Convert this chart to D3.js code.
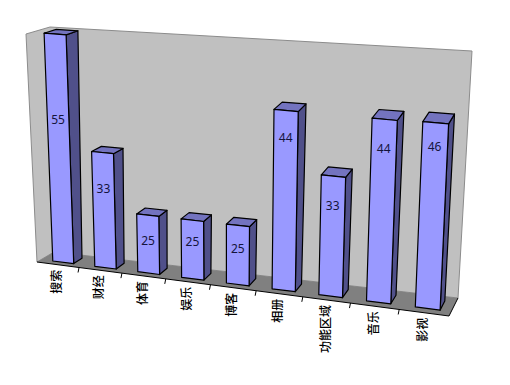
<!DOCTYPE html>
<html><head><meta charset="utf-8">
<script src="https://cdn.jsdelivr.net/npm/d3@7/dist/d3.min.js"></script>
<style>html,body{margin:0;padding:0;background:#fff}svg{display:block}</style>
</head><body><svg id="c" width="510" height="385"></svg>
<script>
// Data
const categories = ["搜索","财经","体育","娱乐","博客","相册","功能区域","音乐","影视"];
const values = [55,33,25,25,25,44,33,44,46];
// The picture's bars are not proportional to their labels: read value -> share of wall height
const valueStops = [25,33,44,46,55];
const heightStops = [0.25,0.5,0.755,0.76,1];
// Height (share of wall) at which each printed value sits
const labelHeights = [0.625,0.345,0.14,0.16,0.15,0.64,0.375,0.635,0.66];

// Box corners of the 3D plot, [front/back] x [floor/top]
const corners = {
  floorFL:[37,262], floorBL:[54,252], floorBR:[458,298], floorFR:[449,316],
  topFL:[26,34], topBL:[50,27], topBR:[472,51], topFR:[460,71]
};
const K = 1.1; // perspective foreshortening along the category axis
const lerp = (a,b,t)=>[a[0]+(b[0]-a[0])*t, a[1]+(b[1]-a[1])*t];
const warp = u => u/(u+K*(1-u));
function project(u,v,d){
  const w = warp(u), c = corners;
  const floor = lerp(lerp(c.floorFL,c.floorFR,w), lerp(c.floorBL,c.floorBR,w), d);
  const top = lerp(lerp(c.topFL,c.topFR,w), lerp(c.topBL,c.topBR,w), d);
  return lerp(floor,top,v);
}
const x = d3.scaleBand().domain(categories).range([0.003,1.003]).paddingInner(0.5).paddingOuter(0.25);
const y = d3.scaleLinear().domain(valueStops).range(heightStops);
const depth = d3.scaleLinear().domain([0,1]).range([0.25,0.76]);
const step = x.step();
const cellStart = i => i/categories.length;

const svg = d3.select("#c");
const line = pts => "M"+pts.map(p=>p[0].toFixed(1)+","+p[1].toFixed(1)).join("L")+"Z";
const c = corners;
// walls
svg.append("path").attr("d",line([c.topFL,c.topBL,c.topBR,c.floorBR,c.floorBL,c.floorFL]))
  .attr("fill","#c0c0c0").attr("stroke","#8c8c8c");
// floor
svg.append("path").attr("d",line([c.floorFL,c.floorBL,c.floorBR,c.floorFR])).attr("fill","#808080");
svg.append("path").attr("d",`M${c.floorFL}L${c.floorFR}L${c.floorBR}`).attr("fill","none").attr("stroke","#000");
// ticks
d3.range(1,categories.length).forEach(i=>{
  const p=project(cellStart(i),0,0);
  svg.append("line").attr("x1",p[0]).attr("y1",p[1]).attr("x2",p[0]-1).attr("y2",p[1]+5).attr("stroke","#000");
});
// bars
const bars = svg.append("g").attr("stroke","#000").attr("stroke-width",1.2).attr("stroke-linejoin","round");
categories.forEach((cat,i)=>{
  const u0=x(cat), u1=u0+x.bandwidth(), v=y(values[i]), d0=depth(0), d1=depth(1);
  const P=(u,h,d)=>project(u,h,d);
  bars.append("path").attr("d",line([P(u1,0,d0),P(u1,v,d0),P(u1,v,d1),P(u1,0,d1)])).attr("fill","#50508a");
  bars.append("path").attr("d",line([P(u0,v,d0),P(u1,v,d0),P(u1,v,d1),P(u0,v,d1)])).attr("fill","#7373bf");
  bars.append("path").attr("d",line([P(u0,0,d0),P(u1,0,d0),P(u1,v,d0),P(u0,v,d0)])).attr("fill","#9999ff");
});
// value labels
categories.forEach((cat,i)=>{
  const p=project(x(cat)+x.bandwidth()/2,labelHeights[i],depth(0));
  svg.append("text").attr("x",p[0]).attr("y",p[1]).attr("dy","0.36em").attr("text-anchor","middle")
    .attr("font-family","'Noto Sans',sans-serif").attr("font-size",12).attr("fill","#14143c").text(values[i]);
});
// category labels
categories.forEach((cat,i)=>{
  const p=project(cellStart(i)+step/2,0,0);
  svg.append("text").attr("transform",`translate(${p[0]+3},${p[1]+5}) rotate(-90)`).attr("text-anchor","end")
    .attr("font-family","'Noto Sans CJK SC',sans-serif").attr("font-weight",500).attr("font-size",12).attr("fill","#000").text(cat);
});
</script></body></html>
